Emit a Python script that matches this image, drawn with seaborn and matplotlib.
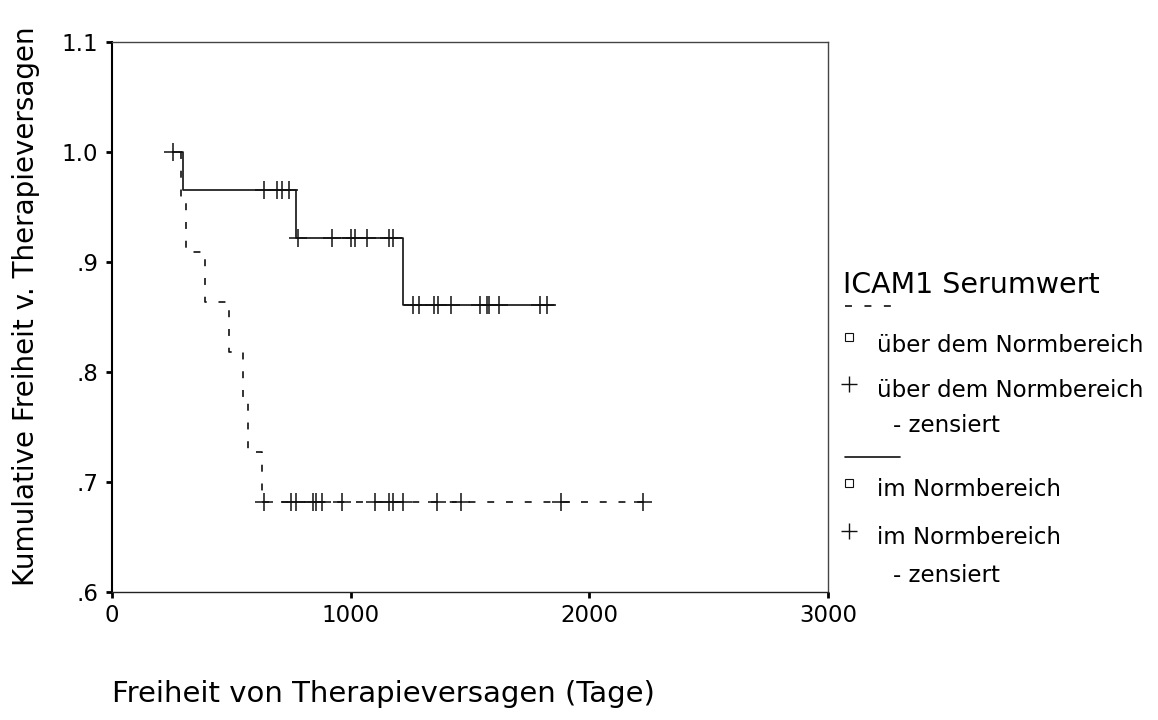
import numpy as np
import pandas as pd
import matplotlib
matplotlib.use("Agg")
import matplotlib.pyplot as plt
import seaborn as sns
from matplotlib.lines import Line2D

# ---------------- data ----------------
# group "über dem Normbereich" (dashed): step function
over_times = [289, 289, 310, 390, 490, 549, 570, 628, 2225]
over_surv = [1.0, 0.9545, 0.909, 0.864, 0.818, 0.773, 0.727, 0.682, 0.682]
over_cens_times = [637, 750, 771, 842, 855, 880, 963, 1102, 1160, 1177,
                   1219, 1361, 1462, 1881, 2225]
over_cens_surv = [0.682] * 15

# group "im Normbereich" (solid): step function
norm_times = [256, 298, 770, 1219, 1852]
norm_surv = [1.0, 0.9655, 0.922, 0.861, 0.861]
norm_cens_times = [256, 637, 691, 712, 741, 779, 922, 1001, 1018, 1068, 1160,
                   1177, 1261, 1286, 1349, 1366, 1420, 1542, 1571, 1579,
                   1621, 1793, 1822]
norm_cens_surv = ([1.0] + [0.9655] * 4 + [0.922] * 7 + [0.861] * 11)

yticks = [0.6, 0.7, 0.8, 0.9, 1.0, 1.1]
ytick_labels = [".6", ".7", ".8", ".9", "1.0", "1.1"]
xticks = [0, 1000, 2000, 3000]
xtick_labels = ["0", "1000", "2000", "3000"]

legend_title = "ICAM1 Serumwert"
legend_over = "über dem Normbereich"
legend_norm = "im Normbereich"
legend_cens = "- zensiert"

# ---------------- figure ----------------
sns.set_style("white")
plt.rcParams["font.family"] = ["DejaVu Sans"]
plt.rcParams["lines.scale_dashes"] = False
plt.rcParams["text.color"] = "black"
plt.rcParams["axes.labelcolor"] = "black"
plt.rcParams["xtick.color"] = "black"
plt.rcParams["ytick.color"] = "black"

W, H = 1158, 720
fig = plt.figure(figsize=(W / 100, H / 100), dpi=100)
ax = fig.add_axes([112 / W, 1 - 592 / H, (828 - 112) / W, (592 - 42) / H])

col = "#111111"
lw = 1.2

over_df = pd.DataFrame({"t": over_times, "s": over_surv})
norm_df = pd.DataFrame({"t": norm_times, "s": norm_surv})

sns.lineplot(data=over_df, x="t", y="s", ax=ax, estimator=None, sort=False,
             drawstyle="steps-post", color=col, lw=lw, linestyle=(0, (5, 8.5)))
sns.lineplot(data=norm_df, x="t", y="s", ax=ax, estimator=None, sort=False,
             drawstyle="steps-post", color=col, lw=lw)

sns.scatterplot(x=over_cens_times, y=over_cens_surv, ax=ax, marker="+",
                s=150, color=col, linewidth=1.1)
sns.scatterplot(x=norm_cens_times, y=norm_cens_surv, ax=ax, marker="+",
                s=150, color=col, linewidth=1.1)

ax.set_xlim(0, 3000)
ax.set_ylim(0.6, 1.1)
ax.set_xticks(xticks)
ax.set_xticklabels(xtick_labels)
ax.set_yticks(yticks)
ax.set_yticklabels(ytick_labels)
ax.tick_params(direction="out", length=4, width=2, color="black",
               labelsize=16.5, bottom=True, left=True)
ax.tick_params(axis="y", pad=6)
ax.tick_params(axis="x", pad=5)
for name, sp in ax.spines.items():
    sp.set_color("#444444")
    sp.set_linewidth(1.0)
ax.spines["left"].set_color("black")
ax.spines["left"].set_linewidth(1.5)
ax.spines["bottom"].set_color("#222222")

ax.set_ylabel("Kumulative Freiheit v. Therapieversagen", fontsize=20)
ax.yaxis.set_label_coords(-0.1, 0.52)
ax.set_xlabel("Freiheit von Therapieversagen (Tage)", fontsize=21, loc="left")
ax.xaxis.set_label_coords(0.0, -0.16)

# ---------------- legend (drawn manually, SPSS-like) ----------------
def fx(px):
    return px / W

def fy(py):
    return 1 - py / H

fs_title = 20.5
fs_entry = 16.5
fig.text(fx(843), fy(285), legend_title, fontsize=fs_title, va="center", ha="left")
fig.add_artist(Line2D([fx(845), fx(892)], [fy(306), fy(306)], color=col, lw=lw,
                      linestyle=(0, (5, 9))))
fig.add_artist(Line2D([fx(849)], [fy(337)], marker="s", markersize=5.5,
                      markerfacecolor="none", markeredgecolor=col, mew=0.8))
fig.text(fx(877), fy(345), legend_over, fontsize=fs_entry, va="center", ha="left")
fig.add_artist(Line2D([fx(849)], [fy(384)], marker="+", markersize=11,
                      color=col, mew=1.0))
fig.text(fx(877), fy(391), legend_over, fontsize=fs_entry, va="center", ha="left")
fig.text(fx(893), fy(425), legend_cens, fontsize=fs_entry, va="center", ha="left")
fig.add_artist(Line2D([fx(845), fx(900)], [fy(457), fy(457)], color=col, lw=lw))
fig.add_artist(Line2D([fx(849)], [fy(483)], marker="s", markersize=5.5,
                      markerfacecolor="none", markeredgecolor=col, mew=0.8))
fig.text(fx(877), fy(490), legend_norm, fontsize=fs_entry, va="center", ha="left")
fig.add_artist(Line2D([fx(849)], [fy(531)], marker="+", markersize=11,
                      color=col, mew=1.0))
fig.text(fx(877), fy(537), legend_norm, fontsize=fs_entry, va="center", ha="left")
fig.text(fx(893), fy(575), legend_cens, fontsize=fs_entry, va="center", ha="left")

fig.savefig("out.png", dpi=100, facecolor="white")
